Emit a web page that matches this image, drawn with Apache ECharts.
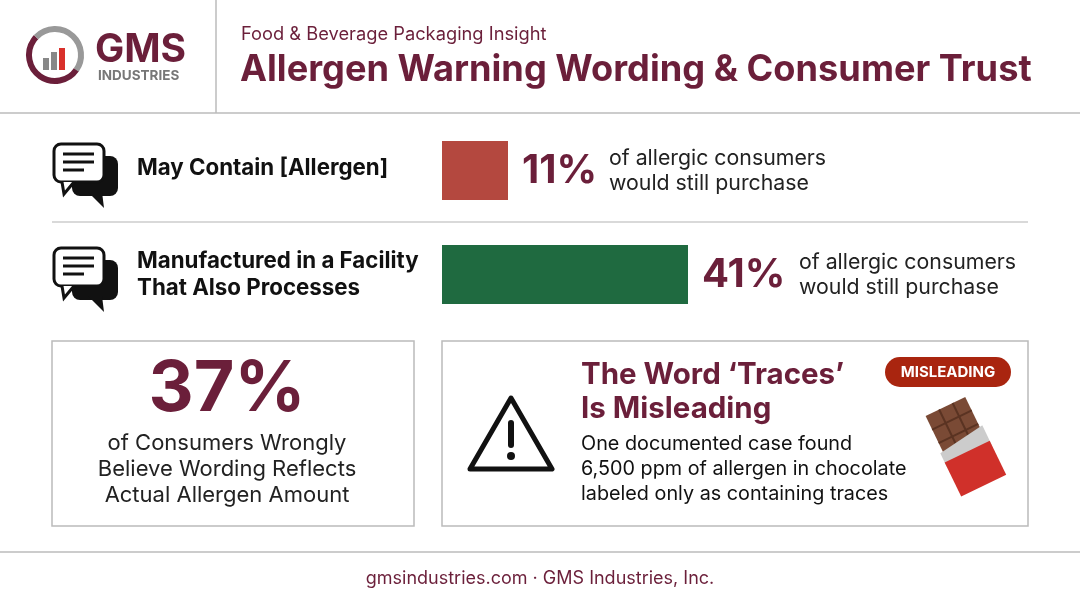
<!DOCTYPE html>
<html>
<head>
<meta charset="utf-8">
<script src="https://cdn.jsdelivr.net/npm/echarts@6/dist/echarts.min.js"></script>
<style>html,body{margin:0;padding:0;background:#fff}#main{width:1080px;height:603px}</style>
</head>
<body>
<div id="main"></div>
<script>
// data
const labels = ['May Contain [Allergen]', 'Manufactured in a Facility\nThat Also Processes']
const shares = [11, 41]
const barColors = ['#b4483f', '#1f6a40']
const wrongBelief = 37

const maroon = '#6b1f3a'
const font = 'Inter, "Noto Sans", sans-serif'
const myChart = echarts.init(document.getElementById('main'))

// chat bubble icon at x,y
function chatIcon(x, y) {
  return {
    type: 'group', x: x, y: y,
    children: [
      { type: 'rect', shape: { x: 20, y: 14, width: 46, height: 40, r: 8 }, style: { fill: '#111' } },
      { type: 'polygon', shape: { points: [[36, 50], [50, 50], [52, 66]] }, style: { fill: '#111' } },
      { type: 'rect', shape: { x: 2, y: 2, width: 50, height: 38, r: 7 }, style: { fill: '#fff', stroke: '#111', lineWidth: 3 } },
      { type: 'polyline', shape: { points: [[10, 40], [12, 52], [22, 40]] }, style: { fill: '#fff', stroke: '#111', lineWidth: 3 } },
      { type: 'line', shape: { x1: 11, y1: 12, x2: 42, y2: 12 }, style: { stroke: '#111', lineWidth: 3 } },
      { type: 'line', shape: { x1: 11, y1: 20, x2: 42, y2: 20 }, style: { stroke: '#111', lineWidth: 3 } },
      { type: 'line', shape: { x1: 11, y1: 28, x2: 32, y2: 28 }, style: { stroke: '#111', lineWidth: 3 } },
    ],
  }
}

const option = {
  backgroundColor: '#fff',
  animation: false,
  grid: { left: 442, width: 600, top: 118.5, height: 208 },
  xAxis: { type: 'value', min: 0, max: 100, show: false },
  yAxis: { type: 'category', data: labels, inverse: true, show: false },
  series: [
    {
      type: 'bar',
      barWidth: 59,
      data: shares.map((v, i) => ({ value: v, itemStyle: { color: barColors[i] } })),
      label: {
        show: true, position: 'right', distance: 14,
        formatter: p => p.value + '%',
        fontFamily: font, fontSize: 40, fontWeight: 'bold', color: maroon,
      },
    },
  ],
  graphic: [
    // header
    { type: 'line', shape: { x1: 0, y1: 113, x2: 1080, y2: 113 }, style: { stroke: '#bbb', lineWidth: 1.5 } },
    { type: 'line', shape: { x1: 216, y1: 0, x2: 216, y2: 113 }, style: { stroke: '#bbb', lineWidth: 1.5 } },
    // logo
    { type: 'arc', shape: { cx: 55, cy: 55, r: 26, startAngle: 0.6, endAngle: 3.9 }, style: { stroke: maroon, lineWidth: 6, fill: null } },
    { type: 'arc', shape: { cx: 55, cy: 55, r: 26, startAngle: 3.9, endAngle: 6.9 }, style: { stroke: '#999', lineWidth: 6, fill: null } },
    { type: 'rect', shape: { x: 43, y: 58, width: 6, height: 12 }, style: { fill: '#888' } },
    { type: 'rect', shape: { x: 51, y: 52, width: 6, height: 18 }, style: { fill: '#888' } },
    { type: 'rect', shape: { x: 59, y: 48, width: 6, height: 22 }, style: { fill: '#d9302b' } },
    { type: 'text', x: 95, y: 31, style: { text: 'GMS', fontFamily: font, fontSize: 39, fontWeight: 'bold', fill: maroon } },
    { type: 'text', x: 98, y: 69, style: { text: 'INDUSTRIES', fontFamily: font, fontSize: 13.5, fontWeight: 'bold', fill: '#777' } },
    { type: 'text', x: 241, y: 26, style: { text: 'Food & Beverage Packaging Insight', fontFamily: font, fontSize: 18.3, fill: maroon } },
    { type: 'text', x: 240, y: 52, style: { text: 'Allergen Warning Wording & Consumer Trust', fontFamily: font, fontSize: 36.2, fontWeight: 'bold', fill: maroon } },
    // rows
    chatIcon(52, 142),
    chatIcon(52, 246),
    { type: 'text', x: 137, y: 157, style: { text: labels[0], fontFamily: font, fontSize: 22.3, fontWeight: 'bold', fill: '#111' } },
    { type: 'text', x: 137, y: 248, style: { text: labels[1], fontFamily: font, fontSize: 22.3, fontWeight: 'bold', fill: '#111', lineHeight: 27 } },
    { type: 'line', shape: { x1: 52, y1: 222, x2: 1028, y2: 222 }, style: { stroke: '#ccc', lineWidth: 1.5 } },
    { type: 'text', x: 609, y: 146, style: { text: 'of allergic consumers\nwould still purchase', fontFamily: font, fontSize: 21.3, fill: '#222', lineHeight: 25 } },
    { type: 'text', x: 799, y: 250, style: { text: 'of allergic consumers\nwould still purchase', fontFamily: font, fontSize: 21.3, fill: '#222', lineHeight: 25 } },
    // left box
    { type: 'rect', shape: { x: 52, y: 341, width: 362, height: 185 }, style: { fill: '#fff', stroke: '#bbb', lineWidth: 1.5 } },
    { type: 'text', x: 227, y: 390, style: { text: wrongBelief + '%', fontFamily: font, fontSize: 70, fontWeight: 'bold', fill: maroon, align: 'center', verticalAlign: 'middle' } },
    { type: 'text', x: 227, y: 430, style: { text: 'of Consumers Wrongly\nBelieve Wording Reflects\nActual Allergen Amount', fontFamily: font, fontSize: 22, fill: '#222', align: 'center', lineHeight: 26 } },
    // right box
    { type: 'rect', shape: { x: 442, y: 341, width: 586, height: 185 }, style: { fill: '#fff', stroke: '#bbb', lineWidth: 1.5 } },
    { type: 'polygon', shape: { points: [[511, 398], [552, 469], [470, 469]] }, style: { fill: '#fff', stroke: '#111', lineWidth: 5, lineJoin: 'round' } },
    { type: 'rect', shape: { x: 508, y: 420, width: 6, height: 28, r: 3 }, style: { fill: '#111' } },
    { type: 'circle', shape: { cx: 511, cy: 456, r: 4 }, style: { fill: '#111' } },
    { type: 'text', x: 581, y: 358, style: { text: 'The Word \u2018Traces\u2019\nIs Misleading', fontFamily: font, fontSize: 29.5, fontWeight: 'bold', fill: maroon, lineHeight: 34 } },
    { type: 'rect', shape: { x: 885, y: 357, width: 126, height: 30, r: 15 }, style: { fill: '#a9250f' } },
    { type: 'text', x: 948, y: 372, style: { text: 'MISLEADING', fontFamily: font, fontSize: 15, fontWeight: 'bold', fill: '#fff', align: 'center', verticalAlign: 'middle' } },
    { type: 'text', x: 581, y: 432, style: { text: 'One documented case found\n6,500 ppm of allergen in chocolate\nlabeled only as containing traces', fontFamily: font, fontSize: 19.8, fill: '#111', lineHeight: 25 } },
    // chocolate
    {
      type: 'group', x: 965, y: 447, rotation: 0.45,
      children: [
        { type: 'rect', shape: { x: -22, y: -45, width: 44, height: 60 }, style: { fill: '#7a4a35' } },
        { type: 'line', shape: { x1: -7, y1: -45, x2: -7, y2: 15 }, style: { stroke: '#5a3322', lineWidth: 2 } },
        { type: 'line', shape: { x1: 8, y1: -45, x2: 8, y2: 15 }, style: { stroke: '#5a3322', lineWidth: 2 } },
        { type: 'line', shape: { x1: -22, y1: -30, x2: 22, y2: -30 }, style: { stroke: '#5a3322', lineWidth: 2 } },
        { type: 'line', shape: { x1: -22, y1: -15, x2: 22, y2: -15 }, style: { stroke: '#5a3322', lineWidth: 2 } },
        { type: 'polygon', shape: { points: [[-25, -5], [25, -12], [25, 10], [-25, 10]] }, style: { fill: '#ccc' } },
        { type: 'rect', shape: { x: -25, y: 5, width: 50, height: 38 }, style: { fill: '#d0302a' } },
      ],
    },
    // footer
    { type: 'line', shape: { x1: 0, y1: 552, x2: 1080, y2: 552 }, style: { stroke: '#bbb', lineWidth: 1.5 } },
    { type: 'text', x: 540, y: 579, style: { text: 'gmsindustries.com \u00b7 GMS Industries, Inc.', fontFamily: font, fontSize: 18, fill: maroon, align: 'center', verticalAlign: 'middle' } },
  ],
}

myChart.setOption(option)
</script>
</body>
</html>
